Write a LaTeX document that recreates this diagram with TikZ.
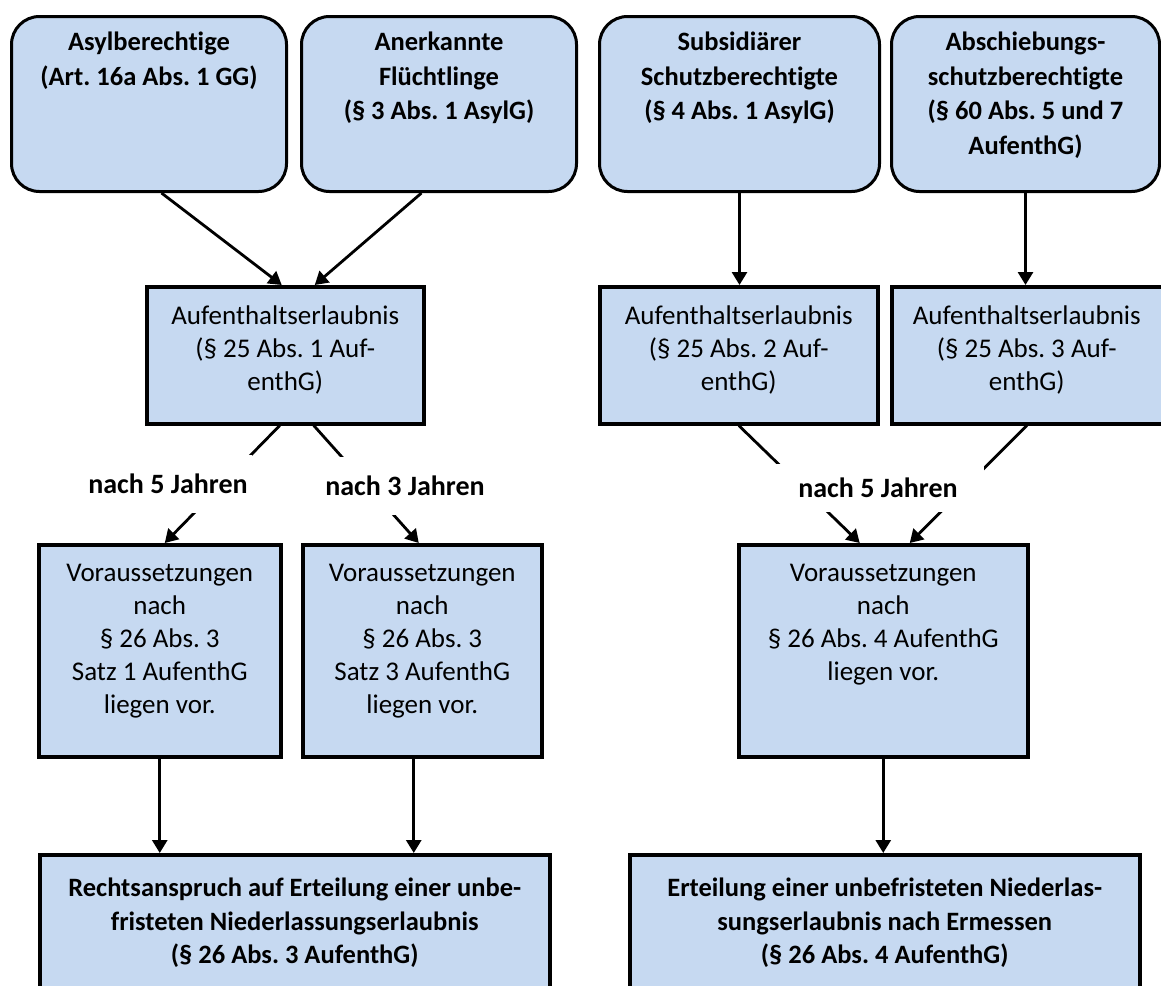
\documentclass[tikz,border=0pt]{standalone}
\usepackage{fontspec}
\setmainfont{Carlito}[Ligatures={NoCommon}]
\frenchspacing
\usetikzlibrary{arrows.meta,calc}
\definecolor{boxblue}{RGB}{198,217,241}
\begin{document}
\begin{tikzpicture}[x=1pt,y=-1pt,
  rbox/.style={draw=black, line width=3pt, fill=boxblue, rounded corners=28pt, anchor=north west, inner sep=0pt},
  sbox/.style={draw=black, line width=3.5pt, fill=boxblue, anchor=north west, inner sep=0pt},
  txt/.style={anchor=north, inner sep=0pt, align=center, font=\fontsize{27}{33}\selectfont},
  btxt/.style={txt, font=\fontsize{26.5}{34.5}\selectfont\bfseries},
  lbl/.style={fill=white, inner sep=0pt, font=\fontsize{28}{33}\selectfont\bfseries},
  arr/.style={line width=2.8pt, -{Triangle[length=13pt,width=15pt]}}]
\path[use as bounding box, clip] (0,0) rectangle (1161,985);

% top rounded boxes
\node[rbox, minimum width=275pt, minimum height=175pt] (A) at (10,15) {};
\node[rbox, minimum width=275pt, minimum height=175pt] (B) at (300,15) {};
\node[rbox, minimum width=280pt, minimum height=175pt] (C) at (598,15) {};
\node[rbox, minimum width=268pt, minimum height=175pt] (D) at (890,15) {};
\node[btxt] (At) at ([yshift=-17pt]A.north) {Asylberechtige\\(Art. 16a Abs. 1 GG)};
\node[btxt] (Bt) at ([yshift=-17pt]B.north) {Anerkannte\\Flüchtlinge\\(§ 3 Abs. 1 AsylG)};
\node[btxt] (Ct) at ([yshift=-17pt]C.north) {Subsidiärer\\Schutzberechtigte\\(§ 4 Abs. 1 AsylG)};
\node[btxt] (Dt) at ([yshift=-17pt]D.north) {Abschiebungs-\\schutzberechtigte\\(§ 60 Abs. 5 und 7\\AufenthG)};

% Aufenthaltserlaubnis boxes
\node[sbox, minimum width=277pt, minimum height=137pt] (Auf1) at (145,285) {};
\node[sbox, minimum width=278pt, minimum height=137pt] (Auf2) at (598,285) {};
\node[sbox, minimum width=280pt, minimum height=137pt] (Auf3) at (890,285) {};
\node[txt] (Auf1t) at ([yshift=-21pt]Auf1.north) {Aufenthaltserlaubnis\\(§ 25 Abs. 1 Auf-\\enthG)};
\node[txt] (Auf2t) at ([yshift=-21pt]Auf2.north) {Aufenthaltserlaubnis\\(§ 25 Abs. 2 Auf-\\enthG)};
\node[txt] (Auf3t) at ([xshift=-5pt,yshift=-21pt]Auf3.north) {Aufenthaltserlaubnis\\(§ 25 Abs. 3 Auf-\\enthG)};

% Voraussetzungen boxes
\node[sbox, minimum width=242pt, minimum height=212pt] (Vor1) at (37,543) {};
\node[sbox, minimum width=239pt, minimum height=212pt] (Vor2) at (301,543) {};
\node[sbox, minimum width=289pt, minimum height=212pt] (Vor3) at (737,543) {};
\node[txt] (Vor1t) at ([yshift=-21pt]Vor1.north) {Voraussetzungen\\nach\\§ 26 Abs. 3\\Satz 1 AufenthG\\liegen vor.};
\node[txt] (Vor2t) at ([yshift=-21pt]Vor2.north) {Voraussetzungen\\nach\\§ 26 Abs. 3\\Satz 3 AufenthG\\liegen vor.};
\node[txt] (Vor3t) at ([yshift=-21pt]Vor3.north) {Voraussetzungen\\nach\\§ 26 Abs. 4 AufenthG\\liegen vor.};

% bottom boxes
\node[sbox, minimum width=510pt, minimum height=160pt] (R1) at (38,853) {};
\node[sbox, minimum width=510pt, minimum height=160pt] (R2) at (628,853) {};
\node[btxt, font=\fontsize{26.5}{33.5}\selectfont\bfseries] (R1t) at ([yshift=-25pt]R1.north) {Rechtsanspruch auf Erteilung einer unbe-\\fristeten Niederlassungserlaubnis\\(§ 26 Abs. 3 AufenthG)};
\node[btxt, font=\fontsize{26.5}{33.5}\selectfont\bfseries] (R2t) at ([yshift=-25pt]R2.north) {Erteilung einer unbefristeten Niederlas-\\sungserlaubnis nach Ermessen\\(§ 26 Abs. 4 AufenthG)};

% connectors
\draw[arr] ([xshift=12.5pt]A.south) -- ([xshift=-3.5pt]Auf1.north);
\draw[arr] ([xshift=-17.5pt]B.south) -- ([xshift=29.5pt]Auf1.north);
\draw[arr] (C.south) -- (C.south |- Auf2.north);
\draw[arr] (D.south) -- (D.south |- Auf3.north);
\draw[arr] ([xshift=-5.5pt]Auf1.south) -- ([xshift=5pt]Vor1.north);
\draw[arr] ([xshift=28.5pt]Auf1.south) -- ([xshift=-3.5pt]Vor2.north);
\draw[arr] (Auf2.south) -- ([xshift=-23.5pt]Vor3.north);
\draw[arr] ([xshift=-5pt]Auf3.south) -- ([xshift=26.5pt]Vor3.north);
\draw[arr] (Vor1.south) -- (Vor1.south |- R1.north);
\draw[arr] ([xshift=-8.5pt]Vor2.south) -- ([xshift=-8.5pt]Vor2.south |- R1.north);
\draw[arr] (Vor3.south) -- (Vor3.south |- R2.north);

% labels
\node[lbl, minimum width=168pt, minimum height=58pt] (L1) at (168,484) {nach 5 Jahren};
\node[lbl, minimum width=168pt, minimum height=58pt] (L2) at (405,486) {nach 3 Jahren};
\node[lbl, minimum width=212pt, minimum height=48pt] (L3) at (878,488) {nach 5 Jahren};
\end{tikzpicture}
\end{document}
